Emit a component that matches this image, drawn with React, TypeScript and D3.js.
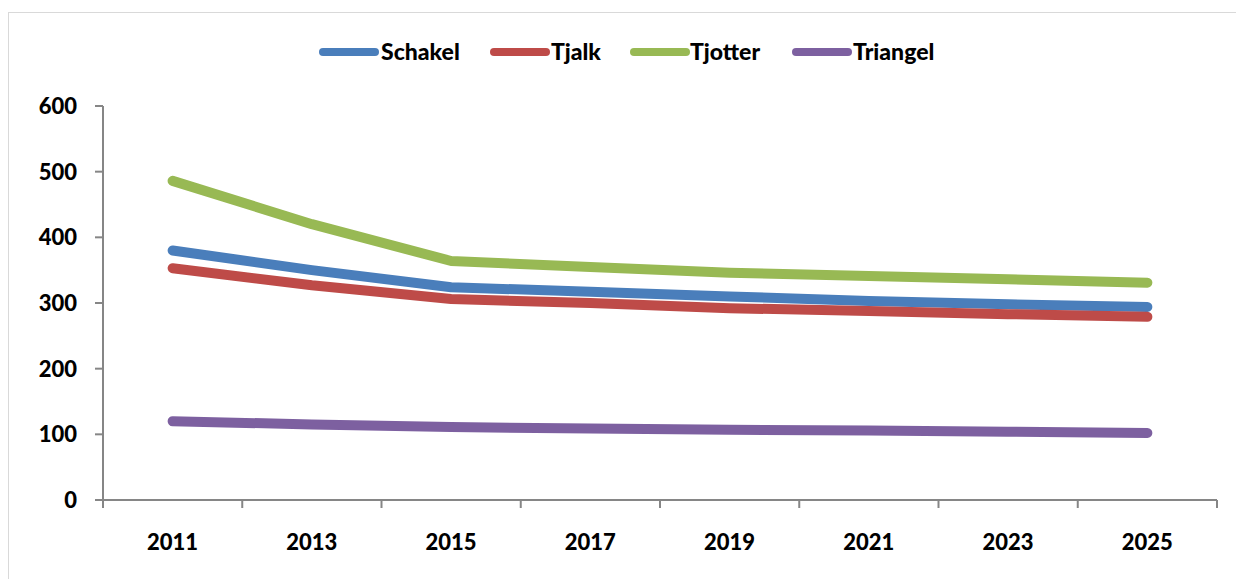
import React from "react";
import * as d3 from "d3";

const years = ["2011", "2013", "2015", "2017", "2019", "2021", "2023", "2025"];
const seriesNames = ["Schakel", "Tjalk", "Tjotter", "Triangel"];
const schakel = [380, 350, 324, 317, 310, 303, 298, 294];
const tjalk = [353, 327, 306, 300, 292, 288, 283, 279];
const tjotter = [486, 420, 364, 355, 346, 341, 336, 331];
const triangel = [120, 115, 111, 109, 107, 106, 104, 102];
const yTicks = [0, 100, 200, 300, 400, 500, 600];
const colors = ["#4A7EBB", "#BE4B48", "#98B954", "#7D60A0"];

const W = 1236;
const H = 579;
const left = 103;
const right = 1217;
const top = 106;
const bottom = 500;
const font = "Lato, 'Open Sans', sans-serif";

export default function App() {
  const data = [schakel, tjalk, tjotter, triangel];
  const x = d3.scaleBand<string>().domain(years).range([left, right]).padding(0);
  const y = d3.scaleLinear().domain([0, 600]).range([bottom, top]);
  const line = d3
    .line<number>()
    .x((_, i) => (x(years[i]) as number) + x.bandwidth() / 2)
    .y((d) => y(d));
  const bounds = years.map((yr) => x(yr) as number).concat([right]);

  const legendItems = [
    { lx: 319, tx: 381 },
    { lx: 490, tx: 551 },
    { lx: 630, tx: 690 },
    { lx: 792, tx: 853 },
  ];

  return (
    <svg
      width={W}
      height={H}
      style={{ position: "absolute", left: 0, top: 0, background: "#fff" }}
    >
      <rect x={8.5} y={12.5} width={1400} height={700} fill="#fff" stroke="#d9d9d9" strokeWidth={1} />
      {/* y axis */}
      <line x1={left} x2={left} y1={top} y2={bottom} stroke="#868686" strokeWidth={2} />
      {yTicks.map((t) => (
        <g key={t}>
          <line x1={left - 8} x2={left} y1={y(t)} y2={y(t)} stroke="#868686" strokeWidth={2} />
          <text
            x={77}
            y={y(t)}
            dy="0.36em"
            textAnchor="end"
            fontFamily={font}
            fontWeight={900}
            fontSize={22}
            fill="#000"
          >
            {t}
          </text>
        </g>
      ))}
      {/* x axis */}
      <line x1={left} x2={right} y1={bottom} y2={bottom} stroke="#868686" strokeWidth={2} />
      {bounds.map((b, i) => (
        <line key={i} x1={b} x2={b} y1={bottom} y2={bottom + 8} stroke="#868686" strokeWidth={2} />
      ))}
      {years.map((yr) => (
        <text
          key={yr}
          x={(x(yr) as number) + x.bandwidth() / 2}
          y={550}
          textAnchor="middle"
          fontFamily={font}
          fontWeight={900}
          fontSize={22}
          fill="#000"
        >
          {yr}
        </text>
      ))}
      {/* series */}
      {data.map((s, i) => (
        <path
          key={seriesNames[i]}
          d={line(s) as string}
          fill="none"
          stroke={colors[i]}
          strokeWidth={10}
          strokeLinecap="round"
          strokeLinejoin="round"
        />
      ))}
      {/* legend */}
      {seriesNames.map((n, i) => (
        <g key={n}>
          <line
            x1={legendItems[i].lx + 4}
            x2={legendItems[i].lx + 56}
            y1={52}
            y2={52}
            stroke={colors[i]}
            strokeWidth={8}
            strokeLinecap="round"
          />
          <text
            x={legendItems[i].tx}
            y={52}
            dy="0.36em"
            fontFamily={font}
            fontWeight={900}
            fontSize={23}
            fill="#000"
          >
            {n}
          </text>
        </g>
      ))}
    </svg>
  );
}
